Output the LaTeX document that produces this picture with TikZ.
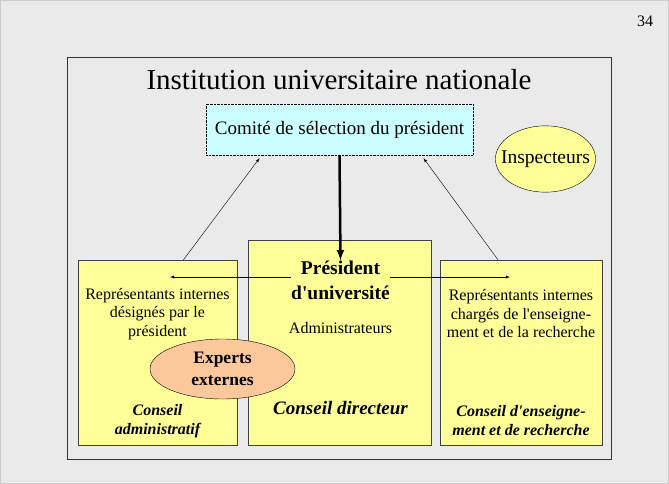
\documentclass[tikz,border=0pt]{standalone}
\usepackage{fontspec}
\setmainfont{Liberation Serif}[Ligatures=TeXOff]
\usetikzlibrary{shapes.geometric}

\definecolor{fond}{RGB}{234,234,234}
\definecolor{jaune}{RGB}{255,255,153}
\definecolor{cyanpale}{RGB}{204,255,255}
\definecolor{peche}{RGB}{250,200,155}

\tikzset{
  conseil/.style={draw=black!75, fill=jaune, inner sep=0pt},
  txt/.style={align=center, inner sep=0pt, font=\fontsize{16}{18.5}\selectfont},
  nomconseil/.style={align=center, inner sep=0pt, font=\fontsize{16}{19}\selectfont\bfseries\itshape},
  fleche/.style={-latex, thin}
}

\begin{document}
\begin{tikzpicture}[x=1pt,y=-1pt]
\useasboundingbox (0,0) rectangle (669,484);
% fond de la diapositive
\fill[fond] (0,0) rectangle (669,484);
\draw[black!20] (0.5,0.5) rectangle (668.5,483.5);
\node[font=\fontsize{16}{18}\selectfont] (page) at (645,21) {34};

% cadre de l'institution
\draw[black!80] (67,57) rectangle (611,459);
\node[font=\fontsize{29}{33}\selectfont] (titre) at (339,80) {Institution universitaire nationale};

\node[draw, densely dotted, fill=cyanpale, minimum width=267pt, minimum height=51pt,
      font=\fontsize{19}{22}\selectfont] (comite) at (339.5,129.5) {Comité de sélection du président};
\node[ellipse, draw, fill=jaune, inner xsep=-9pt, inner ysep=15pt,
      font=\fontsize{19.5}{22}\selectfont] (insp) at (545.5,159) {Inspecteurs};

% les trois conseils
\node[conseil, minimum width=159pt, minimum height=185pt] (ca) at (157.5,352.5) {};
\node[conseil, minimum width=183pt, minimum height=205pt] (cd) at (339.5,342.5) {};
\node[conseil, minimum width=162pt, minimum height=185pt] (cer) at (521,352.5) {};

\node[txt] (repa) at (157.5,314) {Représentants internes\\désignés par le\\président};
\node[nomconseil] (noma) at (157.5,421) {Conseil\\administratif};

\node[align=center, inner sep=0pt, font=\fontsize{19.5}{25}\selectfont\bfseries] (pres) at (340.5,280) {Président\\d'université};
\node[txt] (adm) at (340.5,328) {Administrateurs};
\node[inner sep=0pt, font=\fontsize{19}{22}\selectfont\bfseries\itshape] (nomd) at (340.5,408) {Conseil directeur};

\node[txt] (repe) at (521,314) {Représentants internes\\chargés de l'enseigne-\\ment et de la recherche};
\node[nomconseil] (nome) at (521,421) {Conseil d'enseigne-\\ment et de recherche};

\node[ellipse, draw, fill=peche, minimum width=145pt, minimum height=60pt, inner sep=0pt,
      align=center, font=\fontsize{17.5}{22}\selectfont\bfseries] (exp) at (222.5,369) {Experts\\externes};

% liens
\coordinate (gauche) at (170,277);
\coordinate (droite) at (510,277);
\draw[-latex, line width=2.5pt] (comite.south) -- (pres.north);
\draw[fleche] ([xshift=26pt]ca.north) -- ([xshift=-80pt,yshift=-3pt]comite.south);
\draw[fleche] ([xshift=-23pt]cer.north) -- ([xshift=84pt,yshift=-3pt]comite.south);
\draw[fleche] (pres.west |- gauche) -- (gauche);
\draw[fleche] (pres.east |- droite) -- (droite);
\end{tikzpicture}
\end{document}
